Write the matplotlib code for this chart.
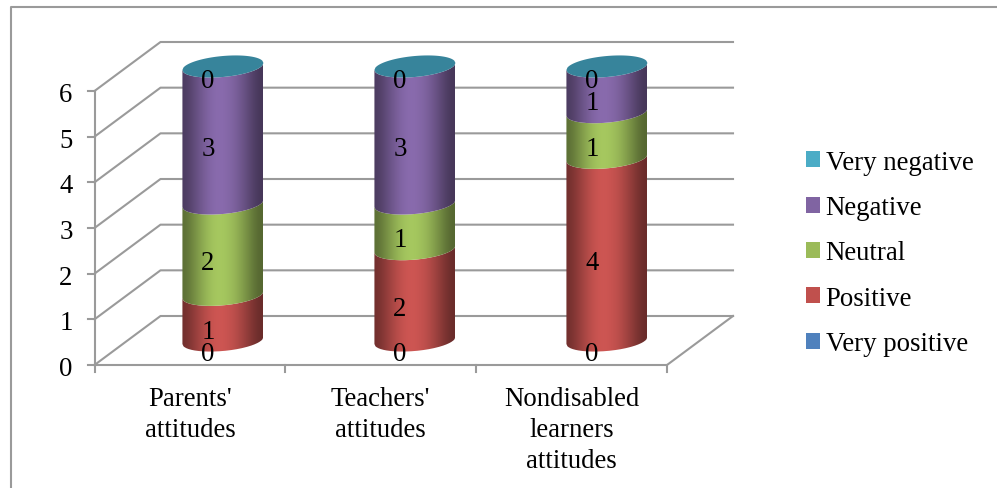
import numpy as np
import matplotlib
matplotlib.use('Agg')
import matplotlib.pyplot as plt
from matplotlib.colors import to_rgb
from matplotlib.patches import Patch, PathPatch
from matplotlib.path import Path

plt.rcParams['font.family'] = ['Liberation Serif', 'DejaVu Serif']

categories = ["Parents'\nattitudes", "Teachers'\nattitudes", "Nondisabled\nlearners\nattitudes"]
series_names = ['Very positive', 'Positive', 'Neutral', 'Negative', 'Very negative']
very_positive = [0, 0, 0]
positive = [1, 2, 4]
neutral = [2, 1, 1]
negative = [3, 3, 1]
very_negative = [0, 0, 0]
colors = ['#4F81BD', '#C0504D', '#9BBB59', '#8064A2', '#4BACC6']
y_ticks = [0, 1, 2, 3, 4, 5, 6]

W, H = 997, 489
fig = plt.figure(figsize=(W / 100, H / 100), dpi=100, facecolor='white')

# front plane of the 3d box, in pixels
left, right, y_bottom, y_top = 94.5, 667, 366, 92
ax = fig.add_axes([left / W, 1 - y_bottom / H, (right - left) / W, (y_bottom - y_top) / H])
ax.set_xlim(-0.5, 2.5)
ax.set_ylim(0, 6)
ax.axis('off')

px_x = 3 / (right - left)
px_y = 6 / (y_bottom - y_top)
depth_x = 66 * px_x
depth_y = 49 * px_y
grey = '#9A9A9A'
font_size = 19.3

# box lines
for v in y_ticks:
    ax.plot([-0.5, -0.5 + depth_x, 2.5 + depth_x], [v, v + depth_y, v + depth_y], color=grey, lw=1.5, clip_on=False, zorder=1)
    ax.plot([-0.5 - 7 * px_x, -0.5], [v, v], color=grey, lw=1.5, clip_on=False, zorder=1)
    ax.text(-0.5 - 22 * px_x, v - 3.5 * px_y, str(v), fontsize=font_size, ha='right', va='center', color='black')
ax.plot([-0.5, -0.5], [0, 6], color=grey, lw=1.5, clip_on=False, zorder=1)
ax.plot([-0.5, 2.5, 2.5 + depth_x], [0, 0, depth_y], color=grey, lw=1.5, clip_on=False, zorder=1)
for i in range(4):
    ax.plot([i - 0.5, i - 0.5], [0, -7 * px_y], color=grey, lw=1.5, clip_on=False, zorder=1)

for i, name in enumerate(categories):
    ax.text(i, -21 * px_y, name, fontsize=font_size, ha='center', va='top', linespacing=1.31, color='black')

# cylinders, they sit a bit wider apart than the ticks
half_w = 40.5 * px_x
ell_h = 10.5 * px_y
tilt = 3.5 * px_y
step = 192 * px_x
u = np.linspace(-1, 1, 80)
shade = np.array([0.6, 0.7, 0.82, 0.93, 1.02, 1.07, 1.07, 1.03, 0.97, 0.87, 0.76, 0.64, 0.55])
stack = np.array([very_positive, positive, neutral, negative, very_negative], dtype=float)
tops = stack.cumsum(axis=0)


def arc(xc, yc):
    return xc + u * half_w, yc + tilt * u - ell_h * np.sqrt(1 - u ** 2)


for i in range(len(categories)):
    xc = i * step + depth_x / 2
    base = depth_y / 2
    for s in range(len(series_names)):
        y0 = base + tops[s, i] - stack[s, i]
        y1 = base + tops[s, i]
        if stack[s, i] > 0:
            xa, ya = arc(xc, y0)
            xb, yb = arc(xc, y1)
            verts = list(zip(xa, ya)) + list(zip(xb[::-1], yb[::-1])) + [(xa[0], ya[0])]
            clip = PathPatch(Path(verts), transform=ax.transData, fc='none', ec='none')
            ax.add_patch(clip)
            img = np.clip(np.outer(shade, to_rgb(colors[s])), 0, 1).reshape(1, -1, 3)
            im = ax.imshow(img, extent=[xc - half_w, xc + half_w, y0 - 1, y1 + 1], aspect='auto',
                           interpolation='bicubic', zorder=2 + s * 0.1)
            im.set_clip_path(clip)
            im.set_clip_box(fig.bbox)
        ax.text(xc - 15 * px_x, (y0 + y1) / 2 - 13.5 * px_y, '%d' % stack[s, i], fontsize=font_size,
                ha='center', va='center', color='black', zorder=5)
    # top face
    xa, ya = arc(xc, base + tops[-1, i])
    xt = np.concatenate([xa, xa[::-1]])
    yt = np.concatenate([ya, 2 * (base + tops[-1, i]) - ya[::-1] + 2 * tilt * u[::-1]])
    ax.fill(xt, yt, color='#37849B', lw=0, zorder=3, clip_on=False)

ax.set_xlim(-0.5, 2.5)
ax.set_ylim(0, 6)

# legend, top entry is the last series
handles = [Patch(fc=colors[s], ec='none', label=series_names[s]) for s in range(4, -1, -1)]
fig.legend(handles=handles, loc='center left', bbox_to_anchor=(806 / W, 1 - 254 / H), frameon=False,
           fontsize=font_size, handlelength=0.53, handleheight=0.53, handletextpad=0.2, labelspacing=0.76,
           borderpad=0, borderaxespad=0)

# chart frame, only left and top are visible in the crop
fig.add_artist(plt.Line2D([11 / W, 11 / W, 1], [0, 1 - 8 / H, 1 - 8 / H], color=grey, lw=1.5))

fig.savefig('out.png', dpi=100)
